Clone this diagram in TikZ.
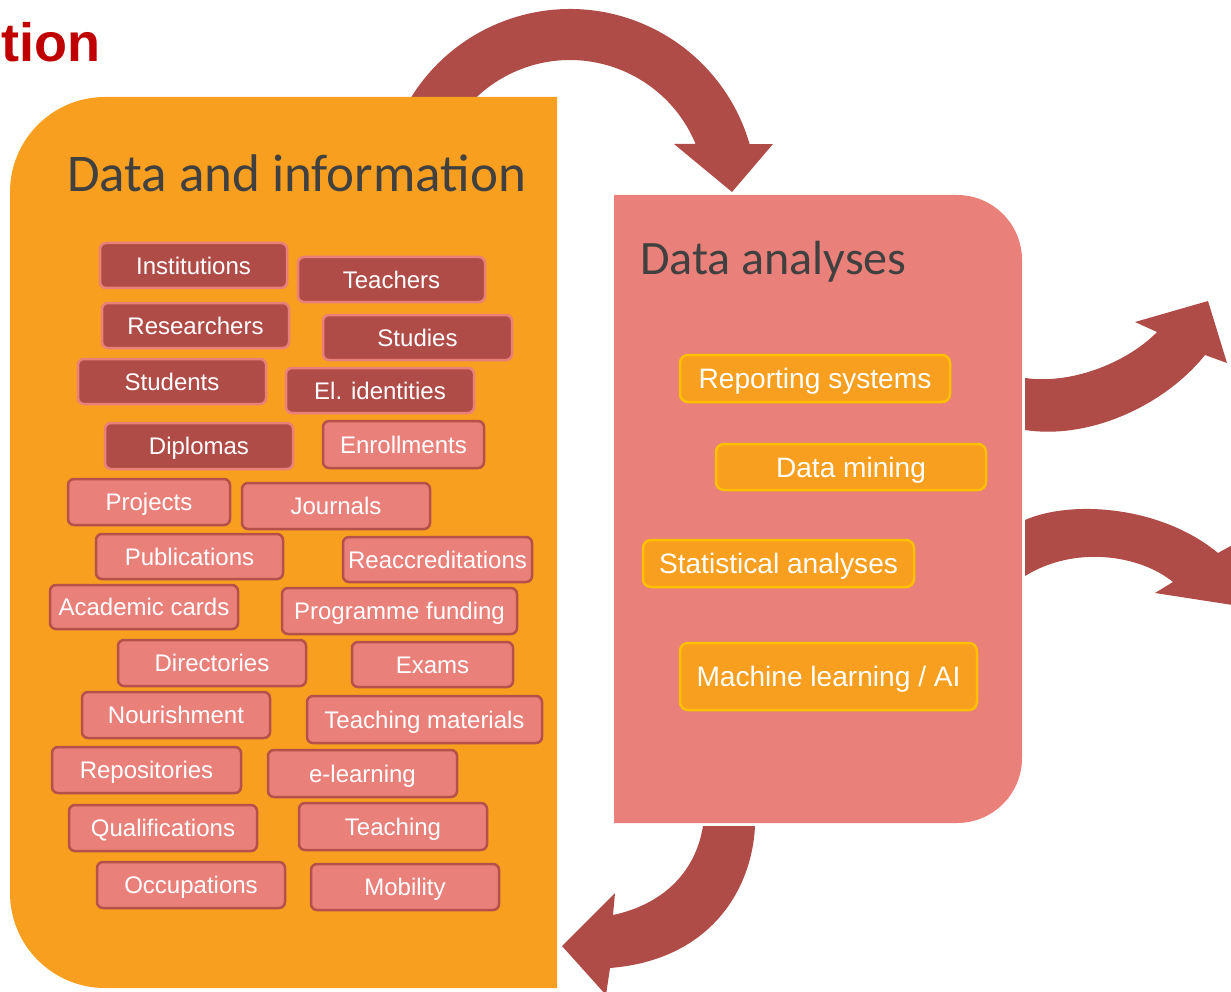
\documentclass[tikz,border=0pt]{standalone}
\usepackage{fontspec}
\setmainfont{Liberation Sans}
\newfontfamily\carlito{Carlito}
\definecolor{orangeP}{HTML}{F89F1F}
\definecolor{salmonP}{HTML}{E9817A}
\definecolor{darkred}{HTML}{B04C47}
\definecolor{tagedge}{HTML}{B5504A}
\definecolor{gold}{HTML}{FFC000}
\definecolor{titlegray}{HTML}{404040}
\definecolor{titlered}{HTML}{C00000}
\begin{document}
\begin{tikzpicture}[x=1pt,y=-1pt,
  tagbase/.style={line width=2.5pt, rounded corners=6pt, text=white, inner sep=0pt,
    font=\fontsize{24}{28}\selectfont, text height=17.2pt, text depth=0pt, align=center},
  tagdark/.style={tagbase, draw=salmonP, fill=darkred},
  taglight/.style={tagbase, draw=tagedge, fill=salmonP},
  anabox/.style={line width=2.5pt, rounded corners=8pt, draw=gold, fill=orangeP, text=white,
    inner sep=0pt, font=\fontsize{28.1}{33}\selectfont, text height=20.1pt, text depth=0pt},
  bigtitle/.style={text=titlegray, inner sep=0pt, anchor=base west},
  arrowc/.style={fill=darkred}
]
\useasboundingbox (0,0) rectangle (1231,992);
\fill[white] (0,0) rectangle (1231,992);

% top curved arrow (behind orange panel)
\fill[arrowc] (400.5,117) arc[start angle=155,end angle=16.1,radius=187pt]
  -- (773,144) -- (732,192) -- (674,144) -- (695.6,144)
  arc[start angle=22.5,end angle=155,radius=136pt] -- cycle;

% panels
\fill[orangeP] (557,97) -- (105,97) arc[start angle=90,end angle=180,radius=95pt]
  -- (10,893) arc[start angle=180,end angle=270,radius=95pt] -- (557,988) -- cycle;
\fill[salmonP] (614,195) -- (957,195) arc[start angle=90,end angle=0,radius=65pt]
  -- (1022,758) arc[start angle=0,end angle=-90,radius=65pt] -- (614,823) -- cycle;

% right and bottom arrows
\fill[arrowc] (1025,378) .. controls (1075,385) and (1130,360) .. (1157,332)
  -- (1135,322) -- (1208,301) -- (1227,363) -- (1205,355)
  .. controls (1165,405) and (1090,440) .. (1025,430) -- cycle;
\fill[arrowc] (1025,520) .. controls (1070,500) and (1160,505) .. (1218,553)
  -- (1245,538) -- (1252,608) -- (1155,593) -- (1173,582)
  .. controls (1140,555) and (1075,545) .. (1025,576) -- cycle;
\fill[arrowc] (755,826) .. controls (752,890) and (710,960) .. (610,968)
  -- (606,995) -- (562,946) -- (615,893) -- (613,915)
  .. controls (660,905) and (695,875) .. (703,826) -- cycle;

% titles
\node[text=titlered, inner sep=0pt, anchor=base east,
  font=\fontsize{54}{64}\selectfont\bfseries] (ttl) at (101,62) {tion};
\node[bigtitle, font=\carlito\fontsize{53}{60}\selectfont] (dinfo) at (67,192) {Data and information};
\node[bigtitle, font=\carlito\fontsize{48}{55}\selectfont] (danal) at (640,275) {Data analyses};

% data tags
\node[tagdark, minimum width=187pt, minimum height=45pt] (t1) at (193.5,265.5) {Institutions};
\node[tagdark, minimum width=187pt, minimum height=45pt] (t2) at (391.5,279.5) {Teachers};
\node[tagdark, minimum width=187pt, minimum height=45pt] (t3) at (195.5,325.5) {Researchers};
\node[tagdark, minimum width=189pt, minimum height=45pt] (t4) at (417.5,337.5) {Studies};
\node[tagdark, minimum width=188pt, minimum height=45pt] (t5) at (172,381.5) {Students};
\node[tagdark, minimum width=188pt, minimum height=45pt] (t6) at (380,390.5) {El. identities};
\node[tagdark, minimum width=188pt, minimum height=46pt] (t7) at (199,446) {Diplomas};
\node[taglight, minimum width=161pt, minimum height=47pt] (t8) at (403.5,444.5) {Enrollments};
\node[taglight, minimum width=162pt, minimum height=46pt] (t9) at (149,502) {Projects};
\node[taglight, minimum width=188pt, minimum height=46pt] (t10) at (336,506) {Journals};
\node[taglight, minimum width=187pt, minimum height=45pt] (t11) at (189.5,556.5) {Publications};
\node[taglight, minimum width=189pt, minimum height=45pt] (t12) at (437.5,559.5) {Reaccreditations};
\node[taglight, minimum width=188pt, minimum height=44pt] (t13) at (144,607) {Academic cards};
\node[taglight, minimum width=235pt, minimum height=46pt] (t14) at (399.5,611) {Programme funding};
\node[taglight, minimum width=188pt, minimum height=46pt] (t15) at (212,663) {Directories};
\node[taglight, minimum width=161pt, minimum height=45pt] (t16) at (432.5,664.5) {Exams};
\node[taglight, minimum width=188pt, minimum height=46pt] (t17) at (176,715) {Nourishment};
\node[taglight, minimum width=235pt, minimum height=47pt] (t18) at (424.5,719.5) {Teaching materials};
\node[taglight, minimum width=189pt, minimum height=46pt] (t19) at (146.5,770) {Repositories};
\node[taglight, minimum width=189pt, minimum height=47pt] (t20) at (362.5,773.5) {e-learning};
\node[taglight, minimum width=188pt, minimum height=46pt] (t21) at (163,828) {Qualifications};
\node[taglight, minimum width=188pt, minimum height=47pt] (t22) at (393,826.5) {Teaching};
\node[taglight, minimum width=188pt, minimum height=46pt] (t23) at (191,885) {Occupations};
\node[taglight, minimum width=188pt, minimum height=46pt] (t24) at (405,887) {Mobility};

% analysis tags
\node[anabox, minimum width=270pt, minimum height=47pt] (a1) at (815,378.5) {Reporting systems};
\node[anabox, minimum width=270pt, minimum height=46pt] (a2) at (851,467) {Data mining};
\node[anabox, minimum width=271pt, minimum height=47pt] (a3) at (778.5,563.5) {Statistical analyses};
\node[anabox, minimum width=297pt, minimum height=67pt] (a4) at (828.5,676.5) {Machine learning / AI};
\end{tikzpicture}
\end{document}
